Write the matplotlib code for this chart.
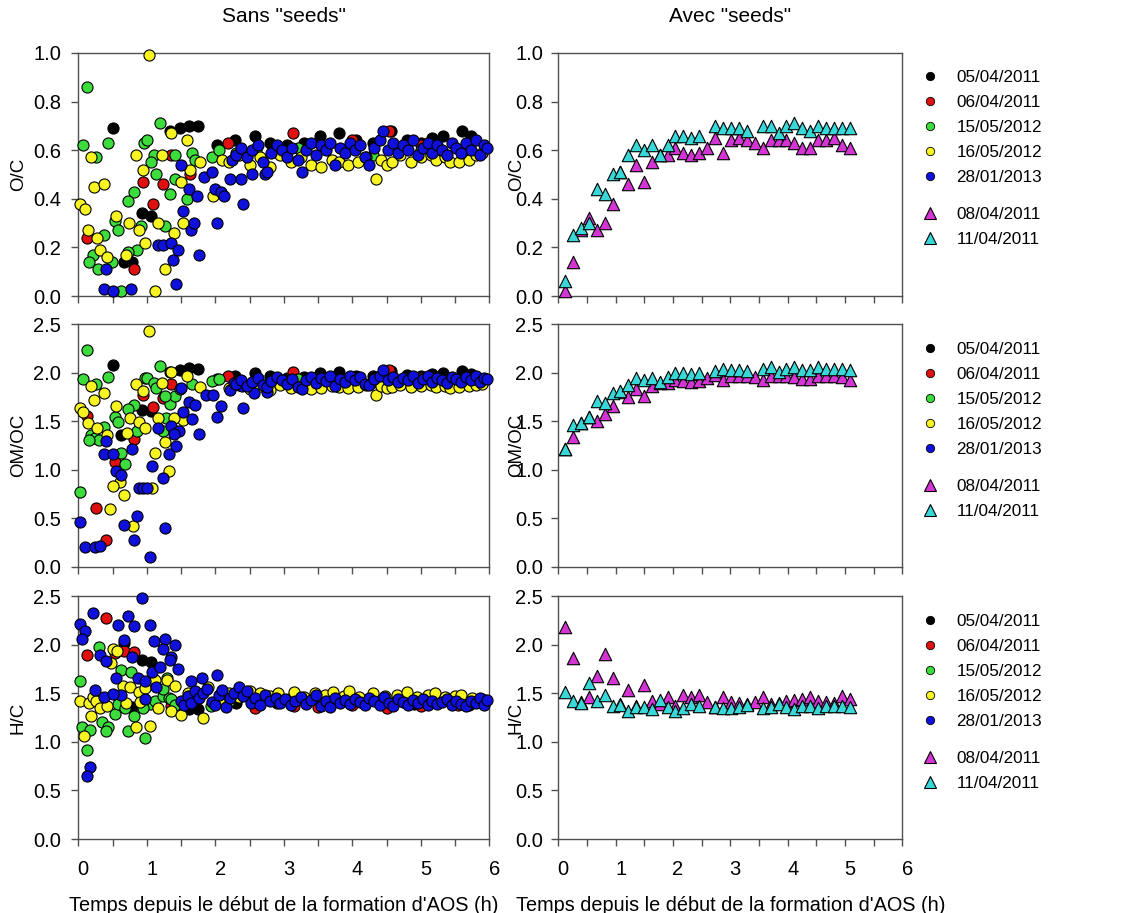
import matplotlib
matplotlib.use('Agg')
import matplotlib.pyplot as plt
import matplotlib.transforms as mtransforms
from matplotlib.lines import Line2D
from matplotlib.ticker import MultipleLocator

plt.rcParams['font.family'] = ['Liberation Sans', 'DejaVu Sans']

# ------------------------------------------------------------------
# Sans "seeds" : 5 campagnes (temps en h)
# ------------------------------------------------------------------
# --- O/C ---
black_t_oc = [0.51, 0.93, 1.06, 0.66, 0.78, 1.34, 1.48, 1.61, 1.75, 2.02, 2.29, 2.58,
              2.80, 3.05, 3.30, 3.53, 3.81, 4.05, 4.30, 4.57, 4.80, 5.00, 5.17, 5.33, 5.60, 5.74]
black_oc = [0.69, 0.34, 0.33, 0.14, 0.14, 0.68, 0.69, 0.70, 0.70, 0.62, 0.64, 0.66,
            0.63, 0.62, 0.63, 0.66, 0.67, 0.64, 0.63, 0.68, 0.64, 0.63, 0.65, 0.66, 0.68, 0.66]

red_t_oc = [0.12, 0.95, 1.23, 1.09, 0.81, 1.36, 1.63, 2.18, 3.14, 4.00, 4.53, 5.00]
red_oc = [0.24, 0.47, 0.46, 0.38, 0.11, 0.58, 0.50, 0.63, 0.67, 0.64, 0.68, 0.62]

green_t_oc = [0.12, 0.07, 0.44, 0.26, 0.96, 1.01, 1.19, 1.10, 1.06, 1.14, 0.82, 0.72,
              0.54, 0.58, 0.92, 1.27, 1.34, 1.41, 1.66, 1.70, 1.58, 1.41, 1.95, 2.05,
              0.86, 0.73, 0.37, 0.21, 0.16, 0.29, 0.49, 0.63, 2.30, 2.60, 3.20, 4.30, 5.00]
green_oc = [0.86, 0.62, 0.63, 0.57, 0.63, 0.64, 0.71, 0.58, 0.55, 0.50, 0.43, 0.39,
            0.31, 0.27, 0.29, 0.29, 0.42, 0.58, 0.59, 0.56, 0.40, 0.48, 0.57, 0.60,
            0.19, 0.18, 0.25, 0.17, 0.14, 0.11, 0.14, 0.02, 0.59, 0.60, 0.61, 0.58, 0.60]

yellow_t_late = [2.20, 2.35, 2.50, 2.65, 2.80, 2.95, 3.10, 3.25, 3.40, 3.55, 3.70, 3.80,
                 3.93, 4.08, 4.20, 4.35, 4.42, 4.50, 4.58, 4.70, 4.85, 5.00, 5.15, 5.22,
                 5.35, 5.42, 5.56, 5.70, 5.80, 5.90]
yellow_t_oc = [1.03, 0.18, 0.23, 0.38, 0.02, 0.10, 0.14, 0.28, 0.32, 0.42, 0.55, 0.74,
               0.89, 0.97, 0.84, 0.94, 1.22, 1.35, 1.59, 1.17, 1.53, 1.40, 1.26, 1.12,
               0.70, 1.50, 1.78, 1.96, 1.63, 2.10] + yellow_t_late
yellow_oc = [0.99, 0.57, 0.45, 0.46, 0.38, 0.36, 0.27, 0.24, 0.19, 0.16, 0.33, 0.30,
             0.27, 0.22, 0.58, 0.52, 0.58, 0.67, 0.64, 0.30, 0.30, 0.26, 0.11, 0.02,
             0.17, 0.47, 0.55, 0.41, 0.52, 0.56,
             0.55, 0.58, 0.54, 0.57, 0.53, 0.58, 0.55, 0.57, 0.54, 0.53, 0.56, 0.55,
             0.54, 0.55, 0.57, 0.48, 0.56, 0.54, 0.55, 0.58, 0.55, 0.57, 0.58, 0.56,
             0.57, 0.55, 0.55, 0.56, 0.58, 0.59]

blue_t_late = [2.30, 2.38, 2.46, 2.54, 2.62, 2.70, 2.75, 2.82, 2.90, 2.98,
               3.05, 3.12, 3.20, 3.26, 3.33, 3.40, 3.47, 3.54, 3.61, 3.68,
               3.75, 3.82, 3.90, 3.97, 4.04, 4.11, 4.18, 4.25, 4.32, 4.40,
               4.45, 4.52, 4.60, 4.67, 4.74, 4.82, 4.89, 4.96, 5.03, 5.10,
               5.17, 5.24, 5.31, 5.38, 5.45, 5.52, 5.59, 5.66, 5.73, 5.80,
               5.86, 5.92, 5.96]
blue_t_oc = [0.40, 0.37, 0.51, 0.77, 1.16, 1.23, 1.35, 1.38, 1.46, 1.42, 1.76, 1.53,
             1.65, 1.69, 2.03, 1.50, 1.61, 1.73, 1.84, 1.95, 1.99, 2.08, 2.12, 2.41,
             2.22, 2.38, 2.24, 2.53, 2.72] + blue_t_late
blue_oc = [0.11, 0.03, 0.02, 0.03, 0.21, 0.21, 0.22, 0.15, 0.19, 0.05, 0.17, 0.35,
           0.27, 0.30, 0.30, 0.54, 0.44, 0.41, 0.49, 0.51, 0.44, 0.43, 0.41, 0.38,
           0.48, 0.48, 0.56, 0.50, 0.50,
           0.58, 0.61, 0.57, 0.60, 0.62, 0.55, 0.51, 0.59, 0.62, 0.60,
           0.57, 0.61, 0.56, 0.51, 0.60, 0.63, 0.58, 0.62, 0.60, 0.63,
           0.54, 0.61, 0.59, 0.63, 0.60, 0.62, 0.57, 0.54, 0.61, 0.64,
           0.68, 0.60, 0.63, 0.59, 0.62, 0.60, 0.64, 0.58, 0.61, 0.63,
           0.59, 0.62, 0.60, 0.58, 0.63, 0.61, 0.59, 0.63, 0.60, 0.64,
           0.58, 0.62, 0.61]

# --- OM/OC ---
black_t_om = [0.51, 0.93, 1.06, 0.63, 1.34, 1.48, 1.61, 1.75, 2.02, 2.29, 2.58,
              2.80, 3.05, 3.30, 3.53, 3.81, 4.05, 4.30, 4.57, 4.80, 5.00, 5.17, 5.33, 5.60, 5.74]
black_om = [2.08, 1.62, 1.61, 1.36, 2.01, 2.03, 2.05, 2.04, 1.93, 1.97, 2.00,
            1.96, 1.94, 1.95, 2.00, 2.01, 1.97, 1.96, 2.02, 1.98, 1.96, 1.99, 2.00, 2.02, 1.99]

red_t_om = [0.12, 0.95, 1.23, 1.09, 0.81, 0.54, 0.26, 0.40, 1.36, 2.18, 3.14, 4.00, 4.53, 5.00]
red_om = [1.55, 1.77, 1.74, 1.65, 1.32, 1.08, 0.61, 0.28, 1.88, 1.96, 2.01, 1.95, 2.03, 1.94]

green_t_om = [0.12, 0.07, 0.44, 0.26, 0.02, 1.19, 0.97, 1.01, 1.10, 0.82, 0.72, 0.54,
              0.58, 0.19, 0.24, 0.30, 0.37, 0.15, 0.63, 0.68, 0.86, 1.28, 1.34, 1.41,
              1.14, 1.26, 1.66, 1.49, 1.95, 2.05, 1.24, 2.30, 2.60, 3.20, 4.30, 5.00]
green_om = [2.23, 1.93, 1.95, 1.88, 0.77, 2.07, 1.94, 1.94, 1.89, 1.67, 1.63, 1.54,
            1.49, 1.36, 1.33, 1.31, 1.44, 1.31, 1.17, 1.06, 1.40, 1.53, 1.68, 1.76,
            1.84, 1.76, 1.88, 1.83, 1.91, 1.93, 1.40, 1.90, 1.92, 1.93, 1.90, 1.92]

yellow_t_om = [1.03, 0.18, 0.23, 0.38, 0.02, 0.07, 0.14, 0.28, 0.42, 0.55, 0.75, 0.89,
               0.97, 0.84, 0.94, 1.22, 1.35, 1.59, 1.17, 1.53, 1.40, 1.26, 1.12, 1.32,
               1.08, 0.66, 0.61, 0.51, 0.46, 0.80, 1.78, 0.71] + yellow_t_late
yellow_om = [2.43, 1.86, 1.72, 1.79, 1.64, 1.59, 1.48, 1.43, 1.36, 1.66, 1.53, 1.49,
             1.43, 1.88, 1.81, 1.89, 2.01, 1.96, 1.53, 1.51, 1.53, 1.29, 1.17, 0.99,
             0.81, 0.74, 0.87, 0.83, 0.60, 0.42, 1.85, 1.38,
             1.84, 1.87, 1.83, 1.86, 1.82, 1.87, 1.84, 1.86, 1.83, 1.84, 1.86, 1.85,
             1.84, 1.85, 1.87, 1.77, 1.86, 1.84, 1.85, 1.87, 1.85, 1.86, 1.87, 1.85,
             1.86, 1.84, 1.85, 1.86, 1.87, 1.88]

blue_t_om = [0.02, 0.10, 0.24, 0.32, 0.40, 0.37, 0.51, 0.55, 0.63, 0.66, 0.85, 0.82,
             1.05, 0.88, 0.95, 1.01, 0.78, 1.08, 1.23, 1.27, 1.32, 1.42, 1.17, 1.35,
             1.47, 1.39, 1.50, 1.53, 1.66, 1.76, 1.61, 1.71, 1.87, 1.96, 2.09, 2.03,
             2.22, 2.41, 2.27, 2.39, 2.57, 2.75] + blue_t_late
blue_om = [0.46, 0.21, 0.21, 0.22, 1.30, 1.16, 1.16, 0.99, 0.95, 0.43, 0.52, 0.28,
           0.10, 0.81, 0.81, 0.81, 1.21, 1.04, 0.92, 0.40, 1.16, 1.24, 1.43, 1.45,
           1.40, 1.37, 1.84, 1.59, 1.52, 1.37, 1.70, 1.67, 1.77, 1.77, 1.66, 1.54,
           1.82, 1.64, 1.89, 1.86, 1.79, 1.80,
           1.88, 1.92, 1.86, 1.90, 1.94, 1.87, 1.85, 1.91, 1.95, 1.92,
           1.88, 1.93, 1.85, 1.83, 1.92, 1.95, 1.89, 1.94, 1.91, 1.96,
           1.86, 1.93, 1.90, 1.96, 1.92, 1.95, 1.88, 1.87, 1.93, 1.96,
           2.03, 1.92, 1.95, 1.90, 1.94, 1.92, 1.97, 1.89, 1.93, 1.96,
           1.90, 1.94, 1.92, 1.89, 1.95, 1.93, 1.90, 1.95, 1.92, 1.97,
           1.90, 1.94, 1.93]

# --- H/C ---
black_t_hc = [0.93, 1.06, 0.66, 0.78, 1.61, 1.75, 2.30, 2.90, 3.60, 4.20, 4.90, 5.70]
black_hc = [1.84, 1.82, 2.02, 1.36, 1.34, 1.34, 1.40, 1.40, 1.39, 1.41, 1.39, 1.38]

red_t_hc = [0.40, 0.12, 0.54, 0.67, 0.82, 1.36, 2.58, 3.15, 3.50, 4.00, 4.50, 5.00, 5.55]
red_hc = [2.27, 1.89, 1.91, 1.93, 1.92, 1.37, 1.35, 1.37, 1.36, 1.38, 1.35, 1.37, 1.38]

green_t_hc = [0.02, 0.30, 0.63, 0.77, 1.29, 0.06, 0.17, 0.34, 0.44, 0.41, 0.12, 0.72,
              0.98, 0.54, 0.82, 0.58, 0.68, 1.05, 0.95, 1.12, 1.23, 1.32, 1.36, 1.41,
              1.24, 1.94, 2.20, 2.60, 3.00, 4.00]
green_hc = [1.63, 1.98, 1.74, 1.72, 1.66, 1.15, 1.12, 1.20, 1.15, 1.11, 0.92, 1.11,
            1.04, 1.29, 1.27, 1.39, 1.35, 1.39, 1.35, 1.42, 1.47, 1.45, 1.44, 1.38,
            1.54, 1.37, 1.42, 1.45, 1.43, 1.44]

yellow_t_hc = [0.51, 0.56, 0.48, 0.02, 0.15, 0.22, 0.26, 0.32, 0.42, 0.18, 0.09, 0.65,
               0.76, 0.88, 0.98, 1.12, 1.29, 1.41, 0.70, 0.90, 1.05, 0.84, 1.17, 1.35,
               1.50, 1.82,
               1.60, 1.75, 1.90, 2.05, 2.20, 2.35, 2.50, 2.65, 2.80, 2.92, 3.08, 3.15,
               3.30, 3.45, 3.60, 3.72, 3.88, 3.95, 4.10, 4.30, 4.48, 4.65, 4.80, 4.95,
               5.10, 5.20, 5.35, 5.50, 5.58, 5.75, 5.90]
yellow_hc = [1.95, 1.93, 1.81, 1.42, 1.40, 1.46, 1.42, 1.35, 1.37, 1.27, 1.06, 1.57,
             1.56, 1.51, 1.55, 1.64, 1.64, 1.57, 1.40, 1.41, 1.16, 1.15, 1.35, 1.32,
             1.28, 1.24,
             1.50, 1.47, 1.56, 1.42, 1.50, 1.46, 1.52, 1.50, 1.47, 1.50, 1.44, 1.51,
             1.46, 1.50, 1.48, 1.51, 1.47, 1.52, 1.46, 1.50, 1.47, 1.48, 1.51, 1.46,
             1.48, 1.50, 1.46, 1.47, 1.48, 1.45, 1.44]

blue_t_hc = [0.93, 0.02, 0.10, 0.06, 0.21, 0.58, 0.73, 0.82, 1.05, 0.66, 1.11, 1.27,
             1.41, 1.24, 1.36, 1.34, 0.32, 0.40, 0.78, 0.55, 0.87, 0.97, 1.07, 1.19,
             1.46, 1.14, 0.63, 0.24, 0.37, 0.51, 0.98, 1.65, 1.80, 2.03, 0.17, 0.13,
             1.50, 1.55, 1.60, 1.65, 1.70, 1.76, 1.82, 1.88, 1.95,
             2.00, 2.05, 2.10, 2.15, 2.22, 2.28, 2.35, 2.40, 2.46, 2.52,
             2.58, 2.65, 2.72, 2.80, 2.88, 2.95, 3.02, 3.10, 3.17, 3.25,
             3.32, 3.40, 3.47, 3.54, 3.61, 3.68, 3.75, 3.82, 3.90, 3.97,
             4.04, 4.11, 4.18, 4.25, 4.32, 4.40, 4.47, 4.54, 4.60, 4.67,
             4.74, 4.82, 4.89, 4.96, 5.03, 5.10, 5.17, 5.24, 5.31, 5.38,
             5.45, 5.52, 5.59, 5.66, 5.73, 5.80, 5.86, 5.92, 5.96]
blue_hc = [2.48, 2.21, 2.14, 2.06, 2.33, 2.20, 2.29, 2.19, 2.20, 2.05, 2.04, 2.06,
           2.00, 1.95, 1.87, 1.84, 1.89, 1.83, 1.87, 1.66, 1.66, 1.63, 1.72, 1.77,
           1.75, 1.56, 1.48, 1.53, 1.46, 1.49, 1.44, 1.63, 1.66, 1.69, 0.74, 0.65,
           1.42, 1.38, 1.47, 1.40, 1.52, 1.45, 1.50, 1.54, 1.41,
           1.38, 1.48, 1.53, 1.36, 1.45, 1.50, 1.56, 1.47, 1.52, 1.40,
           1.45, 1.38, 1.48, 1.42, 1.45, 1.40, 1.44, 1.38, 1.42, 1.46,
           1.39, 1.43, 1.48, 1.37, 1.42, 1.36, 1.45, 1.40, 1.43, 1.39,
           1.44, 1.41, 1.38, 1.45, 1.42, 1.38, 1.46, 1.40, 1.37, 1.44,
           1.41, 1.38, 1.43, 1.40, 1.44, 1.38, 1.42, 1.39, 1.41, 1.44,
           1.38, 1.42, 1.39, 1.37, 1.42, 1.40, 1.45, 1.38, 1.43]

# ------------------------------------------------------------------
# Avec "seeds" : 2 campagnes
# ------------------------------------------------------------------
mag_t = [0.12, 0.25, 0.39, 0.54, 0.67, 0.82, 0.95, 1.08, 1.21, 1.36, 1.50, 1.64, 1.77,
         1.92, 2.04, 2.18, 2.32, 2.46, 2.60, 2.74, 2.87, 3.01, 3.15, 3.29, 3.43, 3.57,
         3.71, 3.85, 3.98, 4.11, 4.25, 4.39, 4.53, 4.67, 4.81, 4.95, 5.09]
mag_oc = [0.02, 0.14, 0.27, 0.32, 0.27, 0.30, 0.38, 0.51, 0.46, 0.54, 0.47, 0.55, 0.58,
          0.58, 0.61, 0.59, 0.58, 0.59, 0.61, 0.65, 0.59, 0.64, 0.65, 0.64, 0.63, 0.61,
          0.64, 0.64, 0.64, 0.63, 0.61, 0.61, 0.64, 0.64, 0.65, 0.62, 0.61]
mag_om = [1.21, 1.34, 1.48, 1.54, 1.50, 1.57, 1.66, 1.80, 1.75, 1.83, 1.76, 1.86, 1.89,
          1.89, 1.92, 1.91, 1.90, 1.91, 1.94, 1.98, 1.92, 1.97, 1.97, 1.97, 1.95, 1.92,
          1.97, 1.97, 1.96, 1.95, 1.93, 1.93, 1.96, 1.97, 1.97, 1.95, 1.92]
mag_hc = [2.18, 1.86, 1.41, 1.46, 1.68, 1.90, 1.66, 1.39, 1.53, 1.37, 1.58, 1.42, 1.39,
          1.46, 1.37, 1.48, 1.46, 1.48, 1.41, 1.36, 1.46, 1.41, 1.40, 1.39, 1.41, 1.46,
          1.39, 1.40, 1.42, 1.43, 1.44, 1.46, 1.42, 1.41, 1.40, 1.47, 1.44]

cyan_t = [0.12, 0.25, 0.39, 0.54, 0.67, 0.82, 0.95, 1.08, 1.21, 1.36, 1.50, 1.64, 1.77,
          1.92, 2.04, 2.18, 2.32, 2.46, 2.74, 2.87, 3.01, 3.15, 3.29, 3.57, 3.71, 3.85,
          3.98, 4.11, 4.25, 4.39, 4.53, 4.67, 4.81, 4.95, 5.09]
cyan_oc = [0.06, 0.25, 0.28, 0.30, 0.44, 0.42, 0.50, 0.51, 0.58, 0.62, 0.60, 0.62, 0.58,
           0.62, 0.66, 0.66, 0.65, 0.66, 0.70, 0.69, 0.69, 0.69, 0.68, 0.70, 0.70, 0.67,
           0.70, 0.71, 0.69, 0.68, 0.70, 0.69, 0.69, 0.69, 0.69]
cyan_om = [1.21, 1.46, 1.48, 1.54, 1.71, 1.69, 1.79, 1.81, 1.87, 1.94, 1.92, 1.94, 1.90,
           1.95, 2.00, 2.00, 1.99, 2.00, 2.02, 2.04, 2.03, 2.03, 2.02, 2.04, 2.06, 2.01,
           2.04, 2.06, 2.03, 2.03, 2.06, 2.04, 2.04, 2.04, 2.03]
cyan_hc = [1.51, 1.42, 1.40, 1.60, 1.42, 1.48, 1.37, 1.38, 1.32, 1.36, 1.36, 1.34, 1.43,
           1.36, 1.32, 1.35, 1.39, 1.37, 1.36, 1.35, 1.35, 1.36, 1.38, 1.35, 1.36, 1.39,
           1.36, 1.34, 1.37, 1.37, 1.35, 1.37, 1.37, 1.37, 1.36]

dates_sans = ['05/04/2011', '06/04/2011', '15/05/2012', '16/05/2012', '28/01/2013']
dates_avec = ['08/04/2011', '11/04/2011']
ylabels = ['O/C', 'OM/OC', 'H/C']
ymax = [1.0, 2.5, 2.5]
ystep = [0.2, 0.5, 0.5]

col_sans = ['#000000', '#e01010', '#3cdc3c', '#f8f422', '#1010dc']
col_avec = ['#d534d5', '#38d8d8']

# ------------------------------------------------------------------
W, H = 1145.0, 913.0
fig = plt.figure(figsize=(W / 100, H / 100), dpi=100)

def add_ax(x0, x1, top, bottom):
    return fig.add_axes([x0 / W, 1 - bottom / H, (x1 - x0) / W, (bottom - top) / H])

rows = [(53, 296), (324, 567), (596, 839)]
frame = '#505050'
dx = mtransforms.ScaledTranslation(5 / 100, 0, fig.dpi_scale_trans)

sans_data = [
    [(black_t_oc, black_oc), (red_t_oc, red_oc), (green_t_oc, green_oc),
     (yellow_t_oc, yellow_oc), (blue_t_oc, blue_oc)],
    [(black_t_om, black_om), (red_t_om, red_om), (green_t_om, green_om),
     (yellow_t_om, yellow_om), (blue_t_om, blue_om)],
    [(black_t_hc, black_hc), (red_t_hc, red_hc), (green_t_hc, green_hc),
     (yellow_t_hc, yellow_hc), (blue_t_hc, blue_hc)],
]
avec_data = [
    [(mag_t, mag_oc), (cyan_t, cyan_oc)],
    [(mag_t, mag_om), (cyan_t, cyan_om)],
    [(mag_t, mag_hc), (cyan_t, cyan_hc)],
]

for i, (top, bottom) in enumerate(rows):
    axl = add_ax(78.3, 489.3, top, bottom)
    axr = add_ax(558.3, 902.3, top, bottom)

    for (t, v), c in zip(sans_data[i], col_sans):
        axl.scatter(t, v, s=64, marker='o', color=c, edgecolors='black',
                    linewidths=0.8, clip_on=False, zorder=3)
    for (t, v), c in zip(avec_data[i], col_avec):
        axr.scatter(t, v, s=80, marker='^', color=c, edgecolors='black',
                    linewidths=0.8, clip_on=False, zorder=3)

    # (axe, position du titre d'axe, pad des graduations y)
    for ax, lab_x, ypad in ((axl, -0.125, 7.4), (axr, -0.097, 5.8)):
        ax.set_xlim(0, 6)
        ax.set_ylim(0, ymax[i])
        ax.xaxis.set_major_locator(MultipleLocator(1))
        ax.xaxis.set_minor_locator(MultipleLocator(0.5))
        ax.yaxis.set_major_locator(MultipleLocator(ystep[i]))
        ax.yaxis.set_major_formatter(plt.FormatStrFormatter('%.1f'))
        for sp in ax.spines.values():
            sp.set_color(frame)
            sp.set_linewidth(1.0)
        ax.tick_params(axis='both', which='both', direction='out', length=5,
                       width=1.0, color=frame, labelsize=14.5)
        ax.tick_params(axis='x', pad=10)
        ax.tick_params(axis='y', pad=ypad)
        ax.set_ylabel(ylabels[i], fontsize=13.5)
        ax.yaxis.set_label_coords(lab_x, 0.5)
        if i < 2:
            ax.tick_params(axis='x', labelbottom=False)
        else:
            for lab in ax.get_xticklabels():
                lab.set_transform(lab.get_transform() + dx)
            ax.set_xlabel("Temps depuis le début de la formation d'AOS (h)",
                          fontsize=14.3, labelpad=12)

    # legendes (deux blocs)
    h_circ = [Line2D([], [], ls='none', marker='o', ms=6, mfc=c, mec='black', mew=0.6)
              for c in col_sans]
    h_tri = [Line2D([], [], ls='none', marker='^', ms=8, mfc=c, mec='black', mew=0.8)
             for c in col_avec]
    y0 = [75, 347, 619][i]
    fig.legend(h_circ, dates_sans, loc='upper left', frameon=False,
               bbox_to_anchor=(918 / W, 1 - (y0 - 5) / H), borderpad=0,
               fontsize=12.3, labelspacing=0.58, handlelength=1.4,
               handletextpad=0.85, borderaxespad=0)
    fig.legend(h_tri, dates_avec, loc='upper left', frameon=False,
               bbox_to_anchor=(918 / W, 1 - (y0 + 132) / H), borderpad=0,
               fontsize=12.3, labelspacing=0.58, handlelength=1.4,
               handletextpad=0.85, borderaxespad=0)

fig.text(283.8 / W, 1 - 17 / H, 'Sans "seeds"', ha='center', va='center', fontsize=15)
fig.text(730.3 / W, 1 - 17 / H, 'Avec "seeds"', ha='center', va='center', fontsize=15)

fig.savefig('out.png', dpi=100)
